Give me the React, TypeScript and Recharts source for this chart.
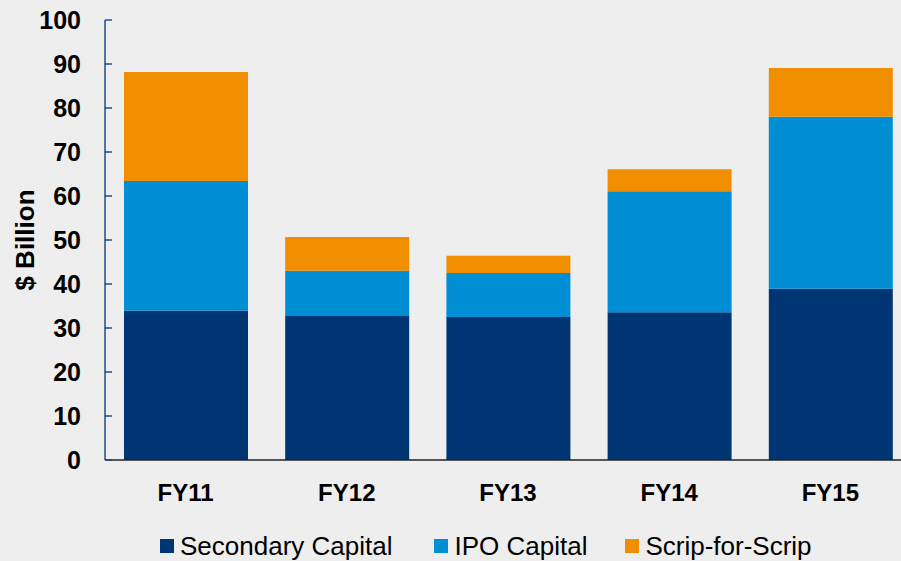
import React from 'react';
import { BarChart, Bar, XAxis, YAxis, Legend } from 'recharts';

const years = ['FY11', 'FY12', 'FY13', 'FY14', 'FY15'];
const secondaryCapital = [33.9, 32.7, 32.5, 33.6, 38.9];
const ipoCapital = [29.5, 10.3, 10.0, 27.5, 39.1];
const scripForScrip = [24.8, 7.7, 3.9, 5.0, 11.1];
const yTicks = [0, 10, 20, 30, 40, 50, 60, 70, 80, 90, 100];

const SERIES = [
  { key: 'secondary', name: 'Secondary Capital', color: '#003574' },
  { key: 'ipo', name: 'IPO Capital', color: '#008fd5' },
  { key: 'scrip', name: 'Scrip-for-Scrip', color: '#f18e00' },
];

const data = years.map((year, i) => ({
  year,
  secondary: secondaryCapital[i],
  ipo: ipoCapital[i],
  scrip: scripForScrip[i],
}));

const FONT = '"Liberation Sans", Arial, sans-serif';
const Y_MARGIN = 24;

// left axis ticks point inward, so draw them by hand
const YTick = (props: any) => {
  const { x, y, payload } = props;
  return (
    <g>
      <line x1={x + Y_MARGIN} x2={x + Y_MARGIN + 7} y1={y} y2={y} stroke="#1f4e8c" strokeWidth={1.5} />
      <text x={x} y={y} dy="0.36em" textAnchor="end" fontFamily={FONT} fontWeight="bold" fontSize={25} fill="#000">
        {payload.value}
      </text>
    </g>
  );
};

const LegendContent = () => (
  <div style={{ display: 'flex', alignItems: 'center', paddingLeft: 160, height: 30, fontFamily: FONT, fontSize: 26, color: '#000' }}>
    {SERIES.map((s, i) => (
      <div key={s.key} style={{ display: 'flex', alignItems: 'center', marginRight: i === 0 ? 42 : 38 }}>
        <span style={{ width: 14, height: 14, background: s.color, display: 'inline-block', marginRight: 6 }} />
        <span>{s.name}</span>
      </div>
    ))}
  </div>
);

export default function App() {
  return (
    <div style={{ position: 'absolute', left: 0, top: 0, width: 901, height: 561, overflow: 'hidden', background: '#eeeeee' }}>
      <BarChart
        width={911}
        height={561}
        data={data}
        margin={{ top: 20, right: 0, left: 0, bottom: 0 }}
        barSize={124}
      >
        <XAxis
          dataKey="year"
          height={71}
          tickLine={false}
          tickSize={0}
          tickMargin={24}
          axisLine={{ stroke: '#222', strokeWidth: 1.5 }}
          tick={{ fontFamily: FONT, fontWeight: 'bold', fontSize: 24, fill: '#000' }}
        />
        <YAxis
          width={105}
          domain={[0, 100]}
          ticks={yTicks}
          interval={0}
          tickLine={false}
          tickSize={0}
          tickMargin={Y_MARGIN}
          axisLine={{ stroke: '#1f4e8c', strokeWidth: 1.5 }}
          tick={<YTick />}
          label={{
            value: '$ Billion',
            angle: -90,
            position: 'insideLeft',
            offset: 0,
            dx: 25,
            style: { fontFamily: FONT, fontWeight: 'bold', fontSize: 26, fill: '#000', textAnchor: 'middle' },
          }}
        />
        <Legend verticalAlign="bottom" height={30} content={<LegendContent />} />
        {SERIES.map((s) => (
          <Bar key={s.key} dataKey={s.key} name={s.name} stackId="a" fill={s.color} isAnimationActive={false} />
        ))}
      </BarChart>
    </div>
  );
}
